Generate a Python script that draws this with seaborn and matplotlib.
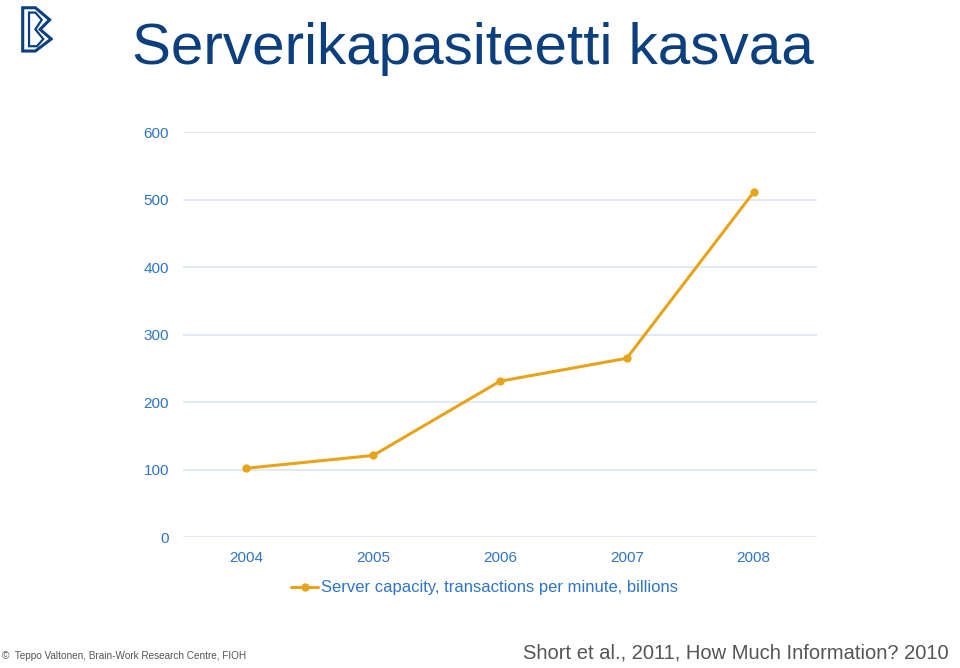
import numpy as np
import pandas as pd
import seaborn as sns
import matplotlib.pyplot as plt
from matplotlib.patches import Polygon

# Data
years = ['2004', '2005', '2006', '2007', '2008']
capacity = [102, 121, 231, 265, 511]
series_name = 'Server capacity, transactions per minute, billions'
yticks = [0, 100, 200, 300, 400, 500, 600]

df = pd.DataFrame({'year': years, 'capacity': capacity, 'series': series_name})

sns.set_theme(style='white')
plt.rcParams['font.family'] = ['Liberation Sans', 'DejaVu Sans']

blue_text = '#2f74c6'
dark_blue = '#0b3f7e'
gold = '#e8a419'
grid_col = '#dbe6f1'

fig = plt.figure(figsize=(9.6, 6.68), dpi=100)
ax = fig.add_axes([0.1906, 0.196, 0.6604, 0.606])

sns.lineplot(data=df, x='year', y='capacity', hue='series', palette=[gold],
             marker='o', markersize=6, markeredgewidth=0, linewidth=2.2,
             ax=ax, sort=False)

ax.set_xlim(-0.5, 4.5)
ax.set_ylim(0, 600)
ax.set_yticks(yticks)
ax.yaxis.grid(True, color=grid_col, linewidth=1.2)
ax.set_axisbelow(True)
for s in ax.spines.values():
    s.set_visible(False)
ax.tick_params(axis='both', length=0, labelsize=11, labelcolor=blue_text)
ax.tick_params(axis='y', pad=10)
ax.tick_params(axis='x', pad=10)
ax.set_xlabel('')
ax.set_ylabel('')

leg = ax.legend(loc='upper center', bbox_to_anchor=(0.476, -0.07), frameon=False,
                fontsize=12, handlelength=1.6, handletextpad=0.2)
for t in leg.get_texts():
    t.set_color(blue_text)

# title
fig.text(0.138, 0.927, 'Serverikapasiteetti kasvaa', fontsize=42, color=dark_blue,
         ha='left', va='center')

# logo (simple B mark)
logo = fig.add_axes([0.022, 0.92, 0.033, 0.072])
logo.set_xlim(0, 1)
logo.set_ylim(0, 1)
logo.axis('off')
logo.add_patch(Polygon([[0.05, 0.95], [0.45, 0.95], [0.9, 0.7], [0.6, 0.5], [0.95, 0.3],
                        [0.45, 0.05], [0.05, 0.05]], closed=True, fill=False,
                       edgecolor=dark_blue, linewidth=2.2))
logo.add_patch(Polygon([[0.25, 0.85], [0.25, 0.15], [0.5, 0.15], [0.7, 0.3], [0.45, 0.5],
                        [0.65, 0.7], [0.45, 0.85]], closed=True, fill=False,
                       edgecolor=dark_blue, linewidth=1.6))

# footers
fig.text(0.002, 0.01, '\u00a9  Teppo Valtonen, Brain-Work Research Centre, FIOH', fontsize=7.2,
         color='#555555', ha='left', va='bottom')
fig.text(0.988, 0.008, 'Short et al., 2011, How Much Information? 2010', fontsize=14.5,
         color='#555555', ha='right', va='bottom')

fig.savefig('out.png', dpi=100)
